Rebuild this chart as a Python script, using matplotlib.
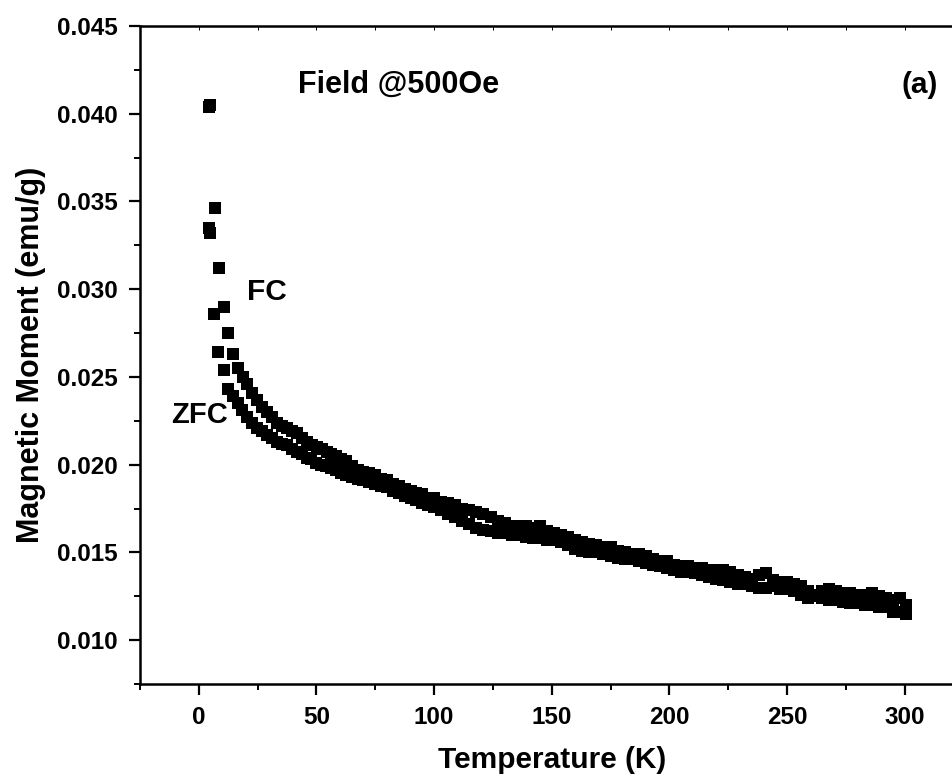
import matplotlib

matplotlib.use("Agg")
import matplotlib.pyplot as plt
from matplotlib.ticker import MultipleLocator

plt.rcParams["font.family"] = ["Liberation Sans", "DejaVu Sans"]
plt.rcParams["font.weight"] = "bold"

# FC branch (upper), temperature in K, moment in emu/g
fc_t = [4.3, 4.6, 6.8, 8.5, 10.7, 12.5, 14.5, 16.6, 18.6, 20.7, 22.8, 24.9,
        27.0, 29.1, 31.2, 33.3, 35.4, 37.5, 39.6, 41.7, 43.8, 45.9, 48.0,
        50.1, 52.2, 54.3, 56.4, 58.5, 60.6, 62.7, 65, 67.5, 70, 72.5, 75,
        77.5, 80, 82.5, 85, 87.5, 90, 92.5, 95, 97.5, 100, 103, 106, 109,
        112, 115, 118, 121, 124, 127, 130, 133, 136, 139, 142, 145, 148, 151,
        154, 157, 160, 163, 166, 169, 172, 175, 178, 181, 184, 187, 190, 193,
        196, 199, 202, 205, 208, 211, 214, 217, 220, 223, 226, 229, 232, 235,
        238, 241, 244, 247, 250, 253, 256, 259, 262, 265, 268, 271, 274, 277,
        280, 283, 286, 289, 292, 295, 298, 300.5]
fc_m = [0.0404, 0.0405, 0.0346, 0.0312, 0.0290, 0.0275, 0.0263, 0.0255,
        0.0250, 0.0246, 0.0241, 0.0237, 0.0233, 0.0230, 0.0227, 0.0224,
        0.0222, 0.0221, 0.0219, 0.0218, 0.0215, 0.0213, 0.0211, 0.0210,
        0.0209, 0.0207, 0.0206, 0.0205, 0.0203, 0.0202, 0.0199, 0.0197,
        0.0196, 0.0195, 0.0194, 0.0192, 0.0191, 0.0189, 0.0188, 0.0186,
        0.0185, 0.0184, 0.0183, 0.0181, 0.0181, 0.0179, 0.0178, 0.0177,
        0.0175, 0.0174, 0.0173, 0.0172, 0.0170, 0.0168, 0.0167, 0.0165,
        0.0165, 0.0165, 0.0164, 0.0165, 0.0162, 0.0161, 0.0160, 0.0159,
        0.0157, 0.0156, 0.0155, 0.0154, 0.0153, 0.0153, 0.0151, 0.0150,
        0.0149, 0.0149, 0.0148, 0.0146, 0.0145, 0.0145, 0.0143, 0.0142,
        0.0142, 0.0141, 0.0141, 0.0140, 0.0140, 0.0140, 0.0139, 0.0137,
        0.0136, 0.0135, 0.0137, 0.0138, 0.0134, 0.0133, 0.0133, 0.0132,
        0.0131, 0.0128, 0.0126, 0.0128, 0.0129, 0.0128, 0.0127, 0.0127,
        0.0126, 0.0126, 0.0127, 0.0125, 0.0124, 0.0123, 0.0124, 0.0120]

# ZFC branch (lower)
zfc_t = [4.4, 4.6, 6.4, 8.2, 10.7, 12.5, 14.5, 16.5, 18.5, 20.6, 22.7, 24.8,
         26.9, 29, 31.1, 33.2, 35.3, 37.4, 39.5, 41.6, 43.7, 45.8, 47.9, 50,
         52.1, 54.2, 56.3, 58.4, 60.5, 62.6, 65, 67.5, 70, 72.5, 75, 77.5, 80,
         82.5, 85, 87.5, 90, 92.5, 95, 97.5, 100, 103, 106, 109, 112, 115,
         118, 121, 124, 127, 130, 133, 136, 139, 142, 145, 148, 151, 154, 157,
         160, 163, 166, 169, 172, 175, 178, 181, 184, 187, 190, 193, 196, 199,
         202, 205, 208, 211, 214, 217, 220, 223, 226, 229, 232, 235, 238, 241,
         244, 247, 250, 253, 256, 259, 262, 265, 268, 271, 274, 277, 280, 283,
         286, 289, 292, 295, 298, 300.5]
zfc_m = [0.0335, 0.0332, 0.0286, 0.0264, 0.0254, 0.0243, 0.0239, 0.0235,
         0.0231, 0.0227, 0.0224, 0.0221, 0.0219, 0.0217, 0.0215, 0.0213,
         0.0212, 0.0211, 0.0209, 0.0207, 0.0206, 0.0204, 0.0203, 0.0201,
         0.0200, 0.0199, 0.0198, 0.0197, 0.0195, 0.0194, 0.0193, 0.0192,
         0.0191, 0.0190, 0.0189, 0.0188, 0.0187, 0.0185, 0.0184, 0.0182,
         0.0181, 0.0180, 0.0178, 0.0177, 0.0176, 0.0174, 0.0172, 0.0170,
         0.0168, 0.0166, 0.0164, 0.0163, 0.0162, 0.0161, 0.0161, 0.0160,
         0.0160, 0.0159, 0.0158, 0.0158, 0.0157, 0.0157, 0.0156, 0.0154,
         0.0152, 0.0151, 0.0150, 0.0150, 0.0149, 0.0148, 0.0147, 0.0146,
         0.0146, 0.0145, 0.0144, 0.0143, 0.0142, 0.0141, 0.0140, 0.0139,
         0.0139, 0.0138, 0.0137, 0.0136, 0.0135, 0.0134, 0.0133, 0.0132,
         0.0132, 0.0131, 0.0130, 0.0130, 0.0131, 0.0129, 0.0129, 0.0128,
         0.0126, 0.0124, 0.0125, 0.0124, 0.0123, 0.0123, 0.0122, 0.0121,
         0.0121, 0.0120, 0.0120, 0.0119, 0.0119, 0.0116, 0.0116, 0.0115]

fig = plt.figure(figsize=(9.52, 7.82), dpi=100)
ax = fig.add_axes([0.147, 0.1253, 0.865, 0.8415])

ax.plot(fc_t, fc_m, "s", color="black", ms=9, mew=0)
ax.plot(zfc_t, zfc_m, "s", color="black", ms=9, mew=0)

ax.set_xlim(-25, 325)
ax.set_ylim(0.0075, 0.045)
ax.xaxis.set_major_locator(MultipleLocator(50))
ax.xaxis.set_minor_locator(MultipleLocator(25))
ax.yaxis.set_major_locator(MultipleLocator(0.005))
ax.yaxis.set_minor_locator(MultipleLocator(0.0025))
ax.yaxis.set_major_formatter(plt.FormatStrFormatter("%.3f"))

for s in ("left", "bottom", "top"):
    ax.spines[s].set_linewidth(1.8)
ax.spines["right"].set_visible(False)
ax.tick_params(which="major", direction="out", length=8, width=1.6,
               labelsize=17.5, pad=8)
ax.tick_params(which="minor", direction="out", length=4, width=1.4)

# faint ticks along the top frame
top = ax.secondary_xaxis("top")
top.xaxis.set_major_locator(MultipleLocator(25))
top.tick_params(direction="in", length=3, width=0.7, labeltop=False)
top.spines["top"].set_visible(False)

ax.set_xlabel("Temperature (K)", fontsize=21.5, fontweight="bold", labelpad=12)
ax.set_ylabel("Magnetic Moment (emu/g)", fontsize=22, fontweight="bold",
              labelpad=8)

ax.text(42, 0.0412, "Field @500Oe", fontsize=22, fontweight="bold",
        va="baseline")
ax.text(298.5, 0.0412, "(a)", fontsize=21.5, fontweight="bold",
        va="baseline")
ax.text(20.5, 0.0294, "FC", fontsize=21.5, fontweight="bold", va="baseline")
ax.text(-11.8, 0.0224, "ZFC", fontsize=21, fontweight="bold", va="baseline")

fig.savefig("out.png", dpi=100)
